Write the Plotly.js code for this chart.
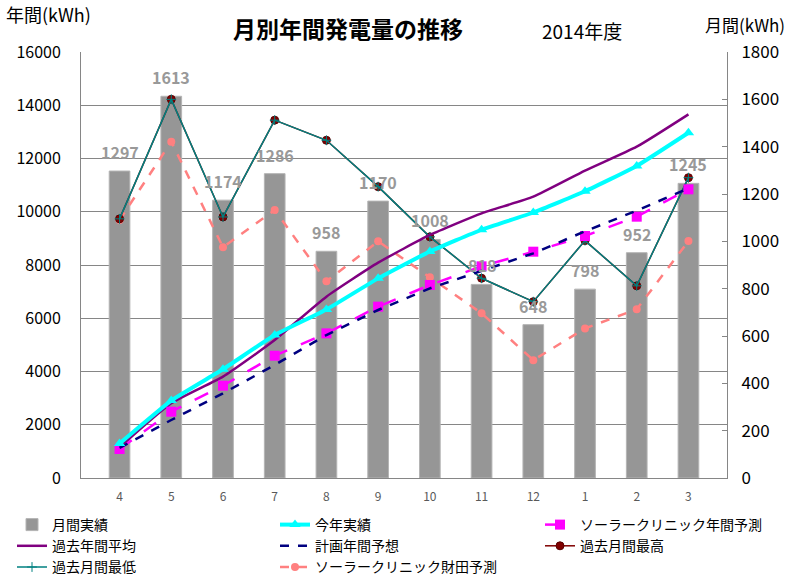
<!DOCTYPE html>
<html>
<head>
<meta charset="utf-8">
<script src="https://cdn.plot.ly/plotly-3.0.1.min.js"></script>
<style>
  html, body { margin: 0; padding: 0; background: #fff; }
  #chart { width: 800px; height: 578px; }
</style>
</head>
<body>
<div id="chart"></div>
<script>
/* 月別年間発電量の推移 (2014年度)
   bars + monthly lines on the right axis, cumulative lines on the left */
var MONTHS = ["4", "5", "6", "7", "8", "9", "10", "11", "12", "1", "2", "3"];

// monthly (right axis, kWh)
var MONTHLY_ACTUAL = [1297, 1613, 1174, 1286, 958, 1170, 1008, 818, 648, 798, 952, 1245];
var PAST_MONTHLY_MAX = [1095, 1600, 1103, 1512, 1427, 1231, 1019, 844, 745, 1003, 812, 1269];
var PAST_MONTHLY_MIN = [1095, 1600, 1103, 1512, 1427, 1231, 1019, 844, 745, 1003, 812, 1269];
var CLINIC_TAKATA = [1090, 1421, 975, 1132, 831, 1000, 848, 696, 498, 632, 713, 1001];

// cumulative (left axis, kWh)
var THIS_YEAR = [1297, 2910, 4084, 5370, 6328, 7498, 8506, 9324, 9972, 10770, 11722, 12967];
var PAST_AVG = [1150, 2805, 3806, 5183, 6810, 8087, 9127, 9940, 10566, 11543, 12444, 13659];
var PLAN = [1130, 2178, 3180, 4244, 5371, 6310, 7124, 7775, 8438, 9265, 10042, 10880];
var CLINIC_YEAR = [1089, 2491, 3468, 4594, 5433, 6435, 7249, 7950, 8500, 9089, 9815, 10842];

var FONT = "'Noto Sans CJK JP', 'Noto Sans', sans-serif";
var AXIS = "#868686";

var traces = [
  { type: "bar", name: "月間実績", x: MONTHS, y: MONTHLY_ACTUAL, yaxis: "y",
    marker: { color: "#969696", line: { color: "#b4b4b4", width: 1 } },
    width: 0.4, legend: "legend", legendrank: 1 },
  { type: "scatter", mode: "lines+markers", name: "ソーラークリニック財田予測", x: MONTHS, y: CLINIC_TAKATA, yaxis: "y",
    line: { color: "#FF8080", width: 2.5, dash: "dash" },
    marker: { symbol: "circle", size: 8, color: "#FF8080" },
    legend: "legend2", legendrank: 3 },
  { type: "scatter", mode: "lines+markers", name: "過去月間最高", x: MONTHS, y: PAST_MONTHLY_MAX, yaxis: "y",
    line: { color: "#800000", width: 1.5 },
    marker: { symbol: "circle", size: 8, color: "#800000", line: { color: "#5a0000", width: 1 } },
    legend: "legend3", legendrank: 2 },
  { type: "scatter", mode: "lines+markers", name: "過去月間最低", x: MONTHS, y: PAST_MONTHLY_MIN, yaxis: "y",
    line: { color: "#008080", width: 1.5 },
    marker: { symbol: "cross-thin", size: 7, color: "#008080", line: { color: "#008080", width: 1 } },
    legend: "legend", legendrank: 3 },
  { type: "scatter", mode: "lines", name: "過去年間平均", x: MONTHS, y: PAST_AVG, yaxis: "y2",
    line: { color: "#800080", width: 2.5, shape: "spline", smoothing: 0.5 },
    legend: "legend", legendrank: 2 },
  { type: "scatter", mode: "lines+markers", name: "ソーラークリニック年間予測", x: MONTHS, y: CLINIC_YEAR, yaxis: "y2",
    line: { color: "#FF00FF", width: 2.5, dash: "longdash" },
    marker: { symbol: "square", size: 10, color: "#FF00FF" },
    legend: "legend3", legendrank: 1 },
  { type: "scatter", mode: "lines", name: "計画年間予想", x: MONTHS, y: PLAN, yaxis: "y2",
    line: { color: "#000080", width: 2.5, dash: "dash" },
    legend: "legend2", legendrank: 2 },
  { type: "scatter", mode: "lines+markers", name: "今年実績", x: MONTHS, y: THIS_YEAR, yaxis: "y2",
    line: { color: "#00FFFF", width: 4, shape: "spline", smoothing: 0.4 },
    marker: { symbol: "triangle-up", size: 10, color: "#00FFFF" },
    legend: "legend2", legendrank: 1 }
];

// value labels above the bars (category index, since the labels look numeric)
var barLabels = MONTHS.map(function (m, i) {
  return { x: i, y: MONTHLY_ACTUAL[i], xref: "x", yref: "y", text: String(MONTHLY_ACTUAL[i]),
    showarrow: false, yanchor: "middle", yshift: 19,
    font: { family: FONT, size: 16, color: "#999999", weight: "bold" } };
});

var legendBase = {
  xref: "container", yref: "container", xanchor: "left", yanchor: "top",
  orientation: "v", bgcolor: "rgba(0,0,0,0)", borderwidth: 0, tracegroupgap: 0,
  font: { family: FONT, size: 14, color: "#000" }, itemclick: false
};
function legendAt(x) { return Object.assign({}, legendBase, { x: x, y: 1 - 509 / 578 }); }

var layout = {
  width: 800, height: 578,
  paper_bgcolor: "#fff", plot_bgcolor: "#fff",
  font: { family: FONT, color: "#000" },
  margin: { l: 81, r: 73, t: 52, b: 100, autoexpand: false },
  title: { text: "月別年間発電量の推移", x: 348 / 800, xanchor: "center", y: 1 - 30 / 578, yanchor: "middle",
    font: { family: FONT, size: 23, weight: "bold", color: "#000" } },
  showlegend: true,
  hovermode: false,
  xaxis: { type: "category", showline: true, linecolor: AXIS, linewidth: 1, ticks: "",
    tickfont: { family: FONT, size: 12, color: "#595959" }, ticklabelstandoff: 8 },
  yaxis: { side: "right", range: [0, 1800], dtick: 200, tickformat: "d", showgrid: false, zeroline: false,
    showline: true, linecolor: AXIS, linewidth: 1, ticks: "inside", ticklen: 5, tickcolor: AXIS,
    tickfont: { family: FONT, size: 17, color: "#000" }, ticklabelstandoff: 10 },
  yaxis2: { overlaying: "y", side: "left", range: [0, 16000], dtick: 2000, tickformat: "d", showgrid: true,
    gridcolor: AXIS, gridwidth: 1, zeroline: false, showline: true, linecolor: AXIS, linewidth: 1,
    ticks: "", tickfont: { family: FONT, size: 16, color: "#000" }, ticklabelstandoff: 16 },
  legend: legendAt(12 / 800),
  legend2: legendAt(275 / 800),
  legend3: legendAt(540 / 800),
  annotations: barLabels.concat([
    { xref: "paper", yref: "paper", x: 0.7755, y: 1.0516, text: "2014年度", showarrow: false,
      xanchor: "center", yanchor: "middle", font: { family: FONT, size: 19, color: "#000" } },
    { xref: "paper", yref: "paper", x: -0.05, y: 1.089, text: "年間(kWh)", showarrow: false,
      xanchor: "center", yanchor: "middle", font: { family: FONT, size: 18, color: "#000" } },
    { xref: "paper", yref: "paper", x: 1.028, y: 1.0634, text: "月間(kWh)", showarrow: false,
      xanchor: "center", yanchor: "middle", font: { family: FONT, size: 17, color: "#000" } }
  ])
};

Plotly.newPlot("chart", traces, layout, { displayModeBar: false, staticPlot: true });
</script>
</body>
</html>
